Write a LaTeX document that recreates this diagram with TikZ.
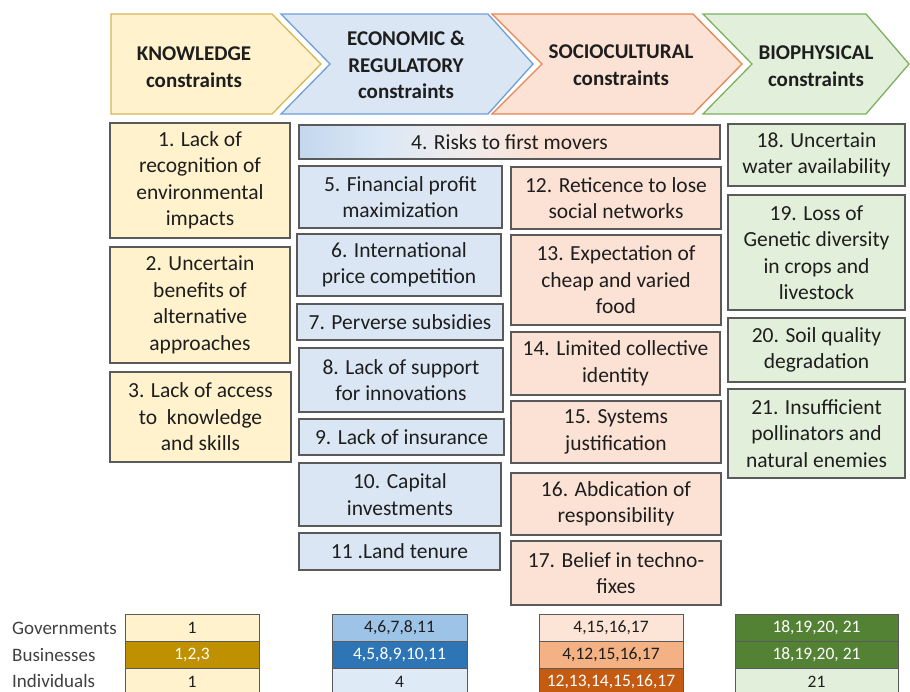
\documentclass[tikz,border=0pt]{standalone}
\usepackage{fontspec}
\setmainfont{Carlito}
\definecolor{kfill}{HTML}{FFF2CC}
\definecolor{kline}{HTML}{D6B656}
\definecolor{efill}{HTML}{DAE6F3}
\definecolor{eline}{HTML}{6F9FD8}
\definecolor{sfill}{HTML}{FBE2D5}
\definecolor{sline}{HTML}{E8844F}
\definecolor{bfill}{HTML}{E2EFDA}
\definecolor{bline}{HTML}{7DB061}
\definecolor{boxline}{HTML}{5A5A5A}
\definecolor{txt}{HTML}{1E1E1E}
\definecolor{kdark}{HTML}{BF9000}
\definecolor{emid}{HTML}{9DC3E6}
\definecolor{edark}{HTML}{2E75B6}
\definecolor{elight}{HTML}{DEEBF7}
\definecolor{smid}{HTML}{F4B183}
\definecolor{sdark}{HTML}{C55A11}
\definecolor{slight}{HTML}{FCE4D6}
\definecolor{bdark}{HTML}{548235}
\definecolor{lbl}{HTML}{404040}
\definecolor{rA}{HTML}{C3D7EE}
\definecolor{rB}{HTML}{DCE8F5}
\definecolor{rC}{HTML}{F1ECEC}
\pgfdeclarehorizontalshading{riskshade}{100bp}{color(0bp)=(rA); color(25bp)=(rA); color(35bp)=(rB); color(45bp)=(rC); color(53bp)=(sfill); color(100bp)=(sfill)}
\newcommand\bfnt{\fontsize{21.5}{26.5}\selectfont}
\newcommand\hfnt{\fontsize{21}{26.5}\selectfont\bfseries}
\newcommand\tfnt{\fontsize{17.5}{20}\selectfont}
\newcommand\lfnt{\fontsize{19}{22}\selectfont}
\tikzset{
  cbox/.style={draw=boxline, line width=1.3pt, align=center, inner sep=0pt, text=txt, font=\bfnt},
  chev/.style={line width=1.3pt},
  htext/.style={align=center, text=txt, font=\hfnt},
  cell/.style={draw=boxline, line width=1pt, inner sep=0pt, font=\tfnt},
  rowlbl/.style={anchor=west, inner sep=0pt, text=lbl, font=\lfnt}
}
% \mkbox{name}{style}{x1}{y1}{x2}{y2}{text}
\newcommand\mkbox[7]{%
  \node[cbox, #2, minimum width={#5pt-#3pt}, minimum height={#6pt-#4pt}] (#1) at ({(#3+#5)/2},{(#4+#6)/2}) {#7};}
% \mkcell{name}{fill}{textcolor}{x1}{y1}{x2}{y2}{text}
\newcommand\mkcell[8]{%
  \node[cell, fill=#2, text=#3, minimum width={#6pt-#4pt}, minimum height={#7pt-#5pt}] (#1) at ({(#4+#6)/2},{(#5+#7)/2}) {#8};}
\begin{document}
\begin{tikzpicture}[x=1pt,y=-1pt]
\useasboundingbox (0,0) rectangle (910,691);
% header chevrons
\filldraw[chev, fill=kfill, draw=kline] (111,14) -- (272,14) -- (321,64) -- (272,114) -- (111,114) -- cycle;
\filldraw[chev, fill=efill, draw=eline] (281,14) -- (488,14) -- (533,64) -- (488,114) -- (281,114) -- (330,64) -- cycle;
\filldraw[chev, fill=sfill, draw=sline] (492,14) -- (693,14) -- (742,64) -- (693,114) -- (492,114) -- (542,64) -- cycle;
\filldraw[chev, fill=bfill, draw=bline] (703,14) -- (866,14) -- (909,64) -- (866,114) -- (703,114) -- (752,64) -- cycle;
\node[htext] (hk) at (194,67) {KNOWLEDGE\\constraints};
\node[htext] (he) at (406,65) {ECONOMIC \&\\REGULATORY\\constraints};
\node[htext] (hs) at (621,65) {SOCIOCULTURAL\\constraints};
\node[htext] (hb) at (816,66) {BIOPHYSICAL\\constraints};
% knowledge column
\mkbox{k1}{fill=kfill}{110}{123}{290}{238}{1. Lack of\\recognition of\\environmental\\impacts}
\mkbox{k2}{fill=kfill}{110}{247}{290}{363}{2. Uncertain\\benefits of\\alternative\\approaches}
\mkbox{k3}{fill=kfill}{110}{372}{291}{462}{3. Lack of access\\to\ \ knowledge\\and skills}
% economic column
\mkbox{e4}{shading=riskshade}{299}{125}{720}{159}{4. Risks to first movers}
\mkbox{e5}{fill=efill}{299}{166}{502}{228}{5. Financial profit\\maximization}
\mkbox{e6}{fill=efill}{297}{234}{501}{296}{6. International\\price competition}
\mkbox{e7}{fill=efill}{297}{304}{503}{340}{7. Perverse subsidies}
\mkbox{e8}{fill=efill}{299}{348}{503}{412}{8. Lack of support\\for innovations}
\mkbox{e9}{fill=efill}{299}{419}{504}{455}{9. Lack of insurance}
\mkbox{e10}{fill=efill}{299}{463}{501}{526}{10. Capital\\investments}
\mkbox{e11}{fill=efill}{299}{533}{500}{570}{11 .Land tenure}
% sociocultural column
\mkbox{s12}{fill=sfill}{511}{167}{721}{229}{12. Reticence to lose\\social networks}
\mkbox{s13}{fill=sfill}{511}{235}{721}{325}{13. Expectation of\\cheap and varied\\food}
\mkbox{s14}{fill=sfill}{511}{332}{720}{395}{14. Limited collective\\identity}
\mkbox{s15}{fill=sfill}{511}{401}{721}{463}{15. Systems\\justification}
\mkbox{s16}{fill=sfill}{511}{473}{721}{535}{16. Abdication of\\responsibility}
\mkbox{s17}{fill=sfill}{511}{541}{721}{605}{17. Belief in techno-\\fixes}
% biophysical column
\mkbox{b18}{fill=bfill}{728}{124}{905}{186}{18. Uncertain\\water availability}
\mkbox{b19}{fill=bfill}{728}{195}{905}{310}{19. Loss of\\Genetic diversity\\in crops and\\livestock}
\mkbox{b20}{fill=bfill}{728}{318}{905}{382}{20. Soil quality\\degradation}
\mkbox{b21}{fill=bfill}{728}{389}{905}{478}{21. Insufficient\\pollinators and\\natural enemies}
% row labels
\node[rowlbl] (lg) at (12,628.5) {Governments};
\node[rowlbl] (lb) at (12,655.5) {Businesses};
\node[rowlbl] (li) at (12,680.5) {Individuals};
% knowledge table
\mkcell{tk1}{kfill}{txt}{125}{614}{259}{641}{1}
\mkcell{tk2}{kdark}{white}{125}{641}{259}{668}{1,2,3}
\mkcell{tk3}{kfill}{txt}{125}{668}{259}{695}{1}
% economic table
\mkcell{te1}{emid}{txt}{332}{614}{467}{641}{4,6,7,8,11}
\mkcell{te2}{edark}{white}{332}{641}{467}{668}{4,5,8,9,10,11}
\mkcell{te3}{elight}{txt}{332}{668}{467}{695}{4}
% sociocultural table
\mkcell{ts1}{slight}{txt}{539}{614}{683}{641}{4,15,16,17}
\mkcell{ts2}{smid}{txt}{539}{641}{683}{668}{4,12,15,16,17}
\mkcell{ts3}{sdark}{white}{539}{668}{683}{695}{12,13,14,15,16,17}
% biophysical table
\mkcell{tb1}{bdark}{white}{735}{614}{898}{641}{18,19,20, 21}
\mkcell{tb2}{bdark}{white}{735}{641}{898}{668}{18,19,20, 21}
\mkcell{tb3}{bfill}{txt}{735}{668}{898}{695}{21}
\end{tikzpicture}
\end{document}
